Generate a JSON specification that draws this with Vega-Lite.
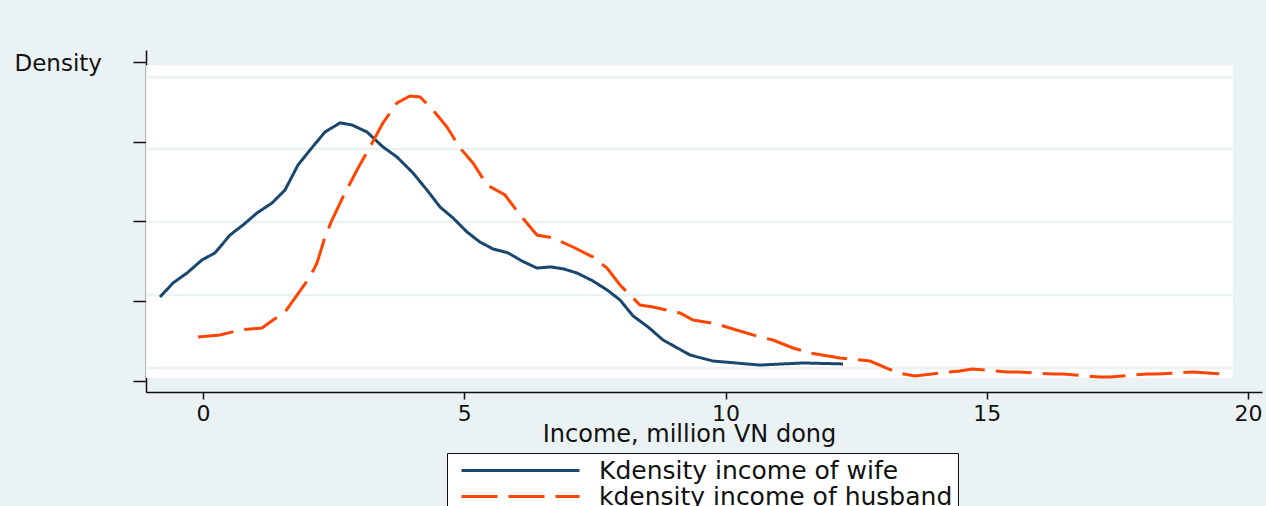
{
  "$schema": "https://vega.github.io/schema/vega-lite/v6.json",
  "width": 1116,
  "height": 342,
  "autosize": {"type": "none"},
  "padding": {"left": 146, "top": 50, "right": 4, "bottom": 114},
  "background": "#EAF2F3",
  "config": {
    "view": {"stroke": null, "fill": null},
    "font": "DejaVu Sans",
    "axis": {"domainColor": "#111111", "domainWidth": 1.5, "tickColor": "#111111", "tickWidth": 1.5, "grid": false, "labelColor": "#111111", "titleColor": "#111111", "labelFont": "DejaVu Sans", "titleFont": "DejaVu Sans", "titleFontWeight": "normal"},
    "legend": {
      "orient": "none", "legendX": 301, "legendY": 403, "direction": "vertical",
      "strokeColor": "#111111", "fillColor": "#ffffff", "padding": 5,
      "symbolType": "stroke", "symbolSize": 13924, "symbolStrokeWidth": 3, "symbolOffset": 8,
      "clipHeight": 25, "rowPadding": 0, "labelOffset": 18,
      "labelFont": "DejaVu Sans", "labelFontSize": 25, "labelColor": "#111111", "labelLimit": 600
    }
  },
  "datasets": {
    "kd": [
      {"income": -0.823, "density": 0.0527, "s": "Kdensity income of wife"},
      {"income": -0.574, "density": 0.0614, "s": "Kdensity income of wife"},
      {"income": -0.306, "density": 0.0677, "s": "Kdensity income of wife"},
      {"income": -0.019, "density": 0.0759, "s": "Kdensity income of wife"},
      {"income": 0.230, "density": 0.0803, "s": "Kdensity income of wife"},
      {"income": 0.517, "density": 0.0915, "s": "Kdensity income of wife"},
      {"income": 0.766, "density": 0.0978, "s": "Kdensity income of wife"},
      {"income": 1.033, "density": 0.1053, "s": "Kdensity income of wife"},
      {"income": 1.321, "density": 0.1116, "s": "Kdensity income of wife"},
      {"income": 1.569, "density": 0.1197, "s": "Kdensity income of wife"},
      {"income": 1.818, "density": 0.1354, "s": "Kdensity income of wife"},
      {"income": 2.048, "density": 0.1448, "s": "Kdensity income of wife"},
      {"income": 2.335, "density": 0.1561, "s": "Kdensity income of wife"},
      {"income": 2.622, "density": 0.1618, "s": "Kdensity income of wife"},
      {"income": 2.852, "density": 0.1605, "s": "Kdensity income of wife"},
      {"income": 3.139, "density": 0.1561, "s": "Kdensity income of wife"},
      {"income": 3.445, "density": 0.1467, "s": "Kdensity income of wife"},
      {"income": 3.713, "density": 0.1404, "s": "Kdensity income of wife"},
      {"income": 4.019, "density": 0.1304, "s": "Kdensity income of wife"},
      {"income": 4.287, "density": 0.1197, "s": "Kdensity income of wife"},
      {"income": 4.536, "density": 0.1091, "s": "Kdensity income of wife"},
      {"income": 4.785, "density": 0.1022, "s": "Kdensity income of wife"},
      {"income": 5.053, "density": 0.0934, "s": "Kdensity income of wife"},
      {"income": 5.301, "density": 0.0871, "s": "Kdensity income of wife"},
      {"income": 5.550, "density": 0.0828, "s": "Kdensity income of wife"},
      {"income": 5.837, "density": 0.0803, "s": "Kdensity income of wife"},
      {"income": 6.105, "density": 0.0752, "s": "Kdensity income of wife"},
      {"income": 6.392, "density": 0.0708, "s": "Kdensity income of wife"},
      {"income": 6.660, "density": 0.0715, "s": "Kdensity income of wife"},
      {"income": 6.909, "density": 0.0702, "s": "Kdensity income of wife"},
      {"income": 7.158, "density": 0.0677, "s": "Kdensity income of wife"},
      {"income": 7.464, "density": 0.0627, "s": "Kdensity income of wife"},
      {"income": 7.732, "density": 0.0571, "s": "Kdensity income of wife"},
      {"income": 7.981, "density": 0.0508, "s": "Kdensity income of wife"},
      {"income": 8.230, "density": 0.0408, "s": "Kdensity income of wife"},
      {"income": 8.517, "density": 0.0339, "s": "Kdensity income of wife"},
      {"income": 8.804, "density": 0.0257, "s": "Kdensity income of wife"},
      {"income": 9.321, "density": 0.0163, "s": "Kdensity income of wife"},
      {"income": 9.761, "density": 0.0125, "s": "Kdensity income of wife"},
      {"income": 10.660, "density": 0.0100, "s": "Kdensity income of wife"},
      {"income": 11.483, "density": 0.0113, "s": "Kdensity income of wife"},
      {"income": 12.249, "density": 0.0107, "s": "Kdensity income of wife"},
      {"income": -0.096, "density": 0.0276, "s": "kdensity income of husband"},
      {"income": 0.325, "density": 0.0288, "s": "kdensity income of husband"},
      {"income": 0.708, "density": 0.0320, "s": "kdensity income of husband"},
      {"income": 1.129, "density": 0.0332, "s": "kdensity income of husband"},
      {"income": 1.340, "density": 0.0382, "s": "kdensity income of husband"},
      {"income": 1.569, "density": 0.0433, "s": "kdensity income of husband"},
      {"income": 1.799, "density": 0.0539, "s": "kdensity income of husband"},
      {"income": 2.048, "density": 0.0652, "s": "kdensity income of husband"},
      {"income": 2.182, "density": 0.0740, "s": "kdensity income of husband"},
      {"income": 2.335, "density": 0.0903, "s": "kdensity income of husband"},
      {"income": 2.469, "density": 0.1009, "s": "kdensity income of husband"},
      {"income": 2.679, "density": 0.1154, "s": "kdensity income of husband"},
      {"income": 2.947, "density": 0.1323, "s": "kdensity income of husband"},
      {"income": 3.196, "density": 0.1467, "s": "kdensity income of husband"},
      {"income": 3.445, "density": 0.1618, "s": "kdensity income of husband"},
      {"income": 3.713, "density": 0.1743, "s": "kdensity income of husband"},
      {"income": 3.962, "density": 0.1787, "s": "kdensity income of husband"},
      {"income": 4.153, "density": 0.1781, "s": "kdensity income of husband"},
      {"income": 4.402, "density": 0.1699, "s": "kdensity income of husband"},
      {"income": 4.670, "density": 0.1592, "s": "kdensity income of husband"},
      {"income": 4.919, "density": 0.1461, "s": "kdensity income of husband"},
      {"income": 5.167, "density": 0.1367, "s": "kdensity income of husband"},
      {"income": 5.435, "density": 0.1229, "s": "kdensity income of husband"},
      {"income": 5.780, "density": 0.1166, "s": "kdensity income of husband"},
      {"income": 6.067, "density": 0.1041, "s": "kdensity income of husband"},
      {"income": 6.392, "density": 0.0915, "s": "kdensity income of husband"},
      {"income": 6.699, "density": 0.0897, "s": "kdensity income of husband"},
      {"income": 7.081, "density": 0.0840, "s": "kdensity income of husband"},
      {"income": 7.464, "density": 0.0777, "s": "kdensity income of husband"},
      {"income": 7.732, "density": 0.0708, "s": "kdensity income of husband"},
      {"income": 7.981, "density": 0.0602, "s": "kdensity income of husband"},
      {"income": 8.364, "density": 0.0476, "s": "kdensity income of husband"},
      {"income": 8.612, "density": 0.0464, "s": "kdensity income of husband"},
      {"income": 9.129, "density": 0.0426, "s": "kdensity income of husband"},
      {"income": 9.378, "density": 0.0382, "s": "kdensity income of husband"},
      {"income": 9.837, "density": 0.0357, "s": "kdensity income of husband"},
      {"income": 10.144, "density": 0.0326, "s": "kdensity income of husband"},
      {"income": 10.660, "density": 0.0276, "s": "kdensity income of husband"},
      {"income": 10.909, "density": 0.0257, "s": "kdensity income of husband"},
      {"income": 11.292, "density": 0.0207, "s": "kdensity income of husband"},
      {"income": 11.617, "density": 0.0176, "s": "kdensity income of husband"},
      {"income": 12.191, "density": 0.0144, "s": "kdensity income of husband"},
      {"income": 12.766, "density": 0.0125, "s": "kdensity income of husband"},
      {"income": 13.301, "density": 0.0050, "s": "kdensity income of husband"},
      {"income": 13.627, "density": 0.0031, "s": "kdensity income of husband"},
      {"income": 14.105, "density": 0.0050, "s": "kdensity income of husband"},
      {"income": 14.488, "density": 0.0063, "s": "kdensity income of husband"},
      {"income": 14.718, "density": 0.0075, "s": "kdensity income of husband"},
      {"income": 15.407, "density": 0.0056, "s": "kdensity income of husband"},
      {"income": 15.598, "density": 0.0056, "s": "kdensity income of husband"},
      {"income": 16.268, "density": 0.0044, "s": "kdensity income of husband"},
      {"income": 16.459, "density": 0.0044, "s": "kdensity income of husband"},
      {"income": 17.167, "density": 0.0025, "s": "kdensity income of husband"},
      {"income": 17.359, "density": 0.0025, "s": "kdensity income of husband"},
      {"income": 18.067, "density": 0.0044, "s": "kdensity income of husband"},
      {"income": 18.258, "density": 0.0044, "s": "kdensity income of husband"},
      {"income": 18.947, "density": 0.0056, "s": "kdensity income of husband"},
      {"income": 19.560, "density": 0.0044, "s": "kdensity income of husband"}
    ],
    "grid": [
      {"g": 0.0082}, {"g": 0.0539}, {"g": 0.0997}, {"g": 0.1455}, {"g": 0.1904}
    ]
  },
  "layer": [
    {
      "data": {"values": [{}]},
      "mark": {"type": "rect", "fill": "#ffffff"},
      "encoding": {
        "x": {"datum": -1.09, "type": "quantitative", "scale": {"domain": [-1.091, 20.268], "nice": false, "zero": false},
          "axis": {"values": [0, 5, 10, 15, 20], "tickSize": 7, "labelFontSize": 22, "labelPadding": 4, "title": "Income, million VN dong", "titleFontSize": 24, "titleX": 543, "titleY": 49, "titleBaseline": "alphabetic", "titleAlign": "center"}},
        "x2": {"datum": 19.71},
        "y": {"datum": 0.0019, "type": "quantitative", "scale": {"domain": [-0.0069, 0.2075], "nice": false, "zero": false},
          "axis": {"values": [0, 0.05, 0.1, 0.15, 0.2], "tickSize": 13, "labels": false, "title": "Density", "titleAngle": 0, "titleFontSize": 23, "titleAlign": "left", "titleBaseline": "alphabetic", "titleX": -132, "titleY": 20}},
        "y2": {"datum": 0.198}
      }
    },
    {
      "data": {"name": "grid"},
      "mark": {"type": "rule", "stroke": "#EAF2F3", "strokeWidth": 2.5},
      "encoding": {"y": {"field": "g", "type": "quantitative"}}
    },
    {
      "data": {"name": "kd"},
      "mark": {"type": "line", "strokeWidth": 3, "interpolate": "linear"},
      "encoding": {
        "x": {"field": "income", "type": "quantitative"},
        "y": {"field": "density", "type": "quantitative"},
        "color": {"field": "s", "type": "nominal", "title": null,
          "scale": {"domain": ["Kdensity income of wife", "kdensity income of husband"], "range": ["#1A476F", "#FF4500"]}},
        "strokeDash": {"field": "s", "type": "nominal", "title": null,
          "scale": {"domain": ["Kdensity income of wife", "kdensity income of husband"], "range": [[1, 0], [36, 11]]}}
      }
    }
  ]
}
